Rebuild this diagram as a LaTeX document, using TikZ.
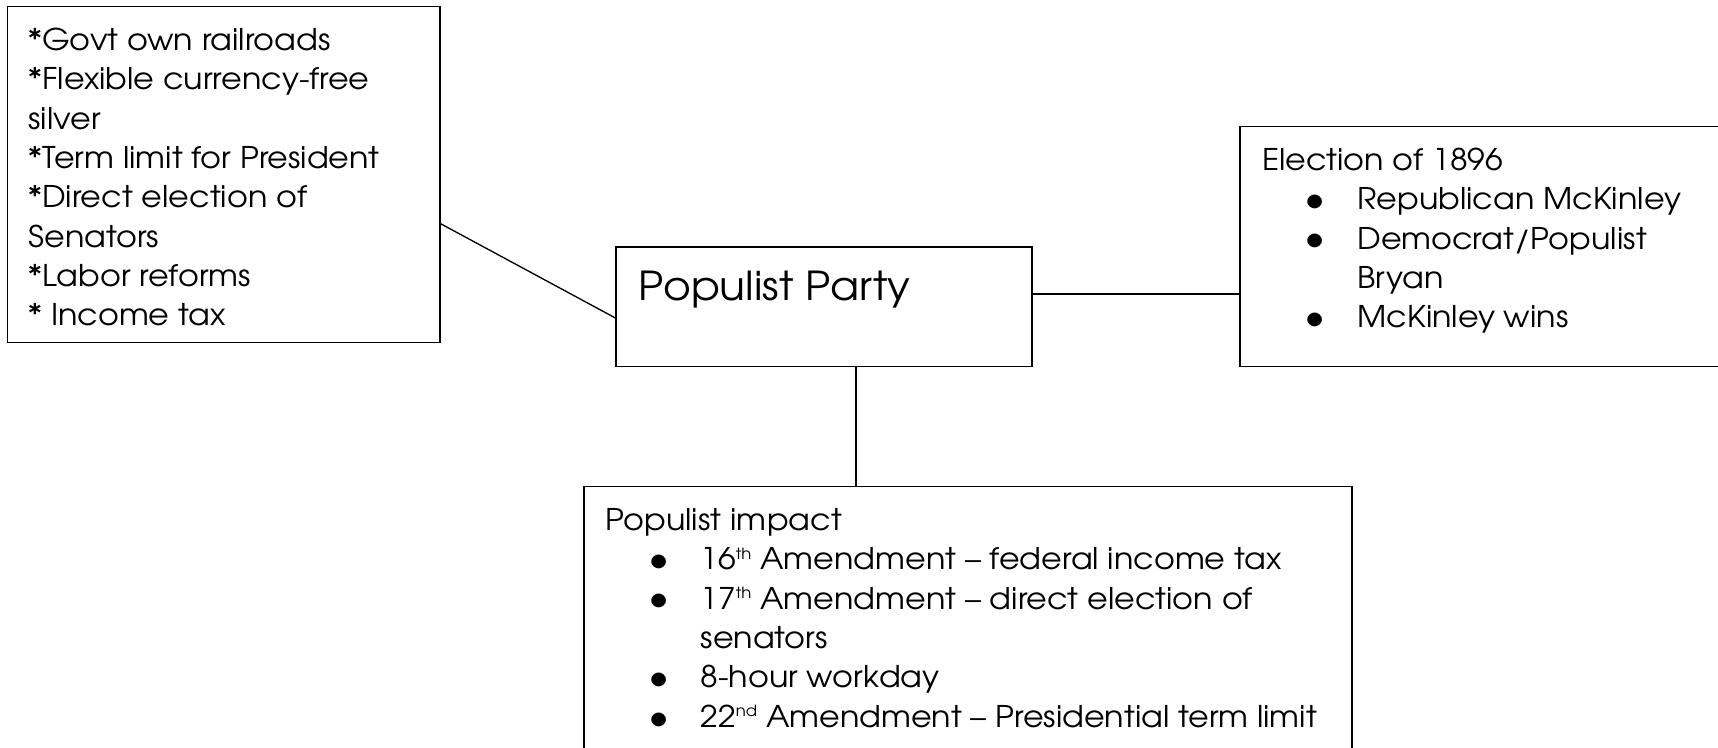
\documentclass[tikz,border=0pt]{standalone}
\usepackage{fontspec}
\usepackage{graphicx}
\setmainfont[FakeStretch=1.065]{TeX Gyre Adventor}
\usetikzlibrary{calc}
\tikzset{
  box/.style={draw=black, line width=0.9pt, rectangle, inner sep=0pt, outer sep=0pt, anchor=north west},
  link/.style={draw=black, line width=0.75pt},
  txt/.style={inner sep=0pt, anchor=north west, font=\fontsize{17}{22.4}\selectfont},
  big/.style={inner sep=0pt, anchor=base west, font=\fontsize{22.7}{28}\selectfont},
}
\newcommand{\bul}{\makebox[1.906cm][l]{\hspace*{0.92cm}\makebox[0.3cm]{\raisebox{-0.06em}{\scalebox{1.28}{\textbullet}}}}}
\newcommand{\hng}{\hspace*{1.906cm}}
\newcommand{\sups}[1]{\raisebox{0.36em}{\fontsize{8.8}{0}\selectfont #1}}

\begin{document}
\begin{tikzpicture}
  \useasboundingbox (0,0) rectangle (34.36,14.96);

  % boxes
  \node[box, minimum width=8.646cm, minimum height=6.722cm] (platform) at (0.154,14.828) {};
  \node[box, minimum width=8.32cm, minimum height=2.38cm] (party) at (12.32,10.014) {};
  \node[box, minimum width=10.4cm, minimum height=4.8cm] (election) at (24.8,12.426) {};
  \node[box, minimum width=15.36cm, minimum height=6.3cm] (impact) at (11.68,5.226) {};

  % texts
  \node[big] (partytxt) at ($(party.north west)+(0.446,-1.074)$) {Populist Party};
  \node[txt] (platformtxt) at ($(platform.north west)+(0.41,-0.316)$) {\begin{tabular}{@{}l@{}}
    {}*Govt own railroads\\
    {}*Flexible currency-free\\
    silver\\
    {}*Term limit for President\\
    {}*Direct election of\\
    Senators\\
    {}*Labor reforms\\
    {}* Income tax
  \end{tabular}};
  \node[txt] (electiontxt) at ($(election.north west)+(0.434,-0.316)$) {\begin{tabular}{@{}l@{}}
    Election of 1896\\
    \bul Republican McKinley\\
    \bul Democrat/Populist\\
    \hng Bryan\\
    \bul McKinley wins
  \end{tabular}};
  \node[txt] (impacttxt) at ($(impact.north west)+(0.42,-0.316)$) {\begin{tabular}{@{}l@{}}
    Populist impact\\
    \bul 16\sups{th} Amendment – federal income tax\\
    \bul 17\sups{th} Amendment – direct election of\\
    \hng senators\\
    \bul 8-hour workday\\
    \bul 22\sups{nd} Amendment – Presidential term limit
  \end{tabular}};

  % links
  \coordinate (pe) at ($(platform.north east)!0.645!(platform.south east)$);
  \coordinate (pw) at ($(party.north west)!0.597!(party.south west)$);
  \draw[link] (pe) -- (pw);
  \coordinate (pr) at ($(party.north east)!0.392!(party.south east)$);
  \draw[link] (pr) -- (pr -| election.west);
  \coordinate (pb) at ($(party.south west)!0.577!(party.south east)$);
  \draw[link] (pb) -- (pb |- impact.north);
\end{tikzpicture}
\end{document}
